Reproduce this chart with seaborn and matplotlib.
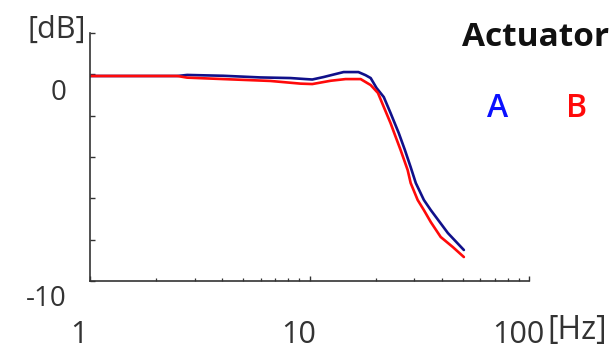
import numpy as np
import pandas as pd
import matplotlib
matplotlib.use("Agg")
import matplotlib.pyplot as plt
import matplotlib.ticker as mticker
from matplotlib.transforms import ScaledTranslation
import seaborn as sns

# ---- data ----
freq_a = [1.0, 2.5, 2.77, 4.05, 5.97, 8.19, 9.6, 10.3, 11.6, 13.1, 14.3, 16.7, 18.0, 19.0, 20.2, 21.8,
          23.4, 25.5, 27.2, 28.9, 30.5, 33.2, 35.7, 42.7, 50.5]
db_a   = [-0.08, -0.08, -0.03, -0.07, -0.15, -0.18, -0.23, -0.25, -0.13, 0.01, 0.11, 0.11, -0.04, -0.18,
          -0.66, -1.10, -1.87, -2.84, -3.66, -4.49, -5.26, -6.08, -6.57, -7.68, -8.50]
freq_b = [1.0, 2.5, 2.77, 4.05, 6.63, 9.1, 10.3, 12.5, 14.6, 17.1, 19.0, 20.5, 21.8, 23.4, 24.7,
          26.0, 28.0, 28.9, 31.1, 33.2, 35.7, 39.6, 45.0, 50.5]
db_b   = [-0.08, -0.08, -0.16, -0.23, -0.32, -0.45, -0.47, -0.31, -0.23, -0.23, -0.52, -0.90, -1.58,
          -2.36, -3.03, -3.66, -4.63, -5.26, -6.08, -6.57, -7.15, -7.87, -8.36, -8.84]
series_names = ["A", "B"]
line_colors = {"A": "#10108a", "B": "#ff0a0a"}
label_colors = {"A": "#0a10ff", "B": "#ff0a0a"}
y_ticks = [-10, -8, -6, -4, -2, 0, 2]
y_ticklabels = ["-10", "", "", "", "", "0", ""]
x_ticks = [1, 10, 100]
x_ticklabels = ["1", "10", "100"]

df = pd.concat([
    pd.DataFrame({"freq": freq_a, "dB": db_a, "Actuator": "A"}),
    pd.DataFrame({"freq": freq_b, "dB": db_b, "Actuator": "B"}),
], ignore_index=True)

sns.set_style("ticks")
plt.rcParams["font.family"] = ["Open Sans", "DejaVu Sans"]

fig = plt.figure(figsize=(6.14, 3.54), dpi=100)
ax = fig.add_axes([90/614, 1-281/354, (529-90)/614, (281-33)/354])

sns.lineplot(data=df, x="freq", y="dB", hue="Actuator", palette=line_colors,
             hue_order=series_names, linewidth=1.9, ax=ax, legend=False, sort=False)

ax.set_xscale("log")
ax.set_xlim(1, 100)
ax.set_ylim(-10, 2)
ax.set_xticks(x_ticks)
ax.set_xticklabels(x_ticklabels)
ax.xaxis.set_minor_locator(mticker.LogLocator(base=10, subs=np.arange(2, 10)))
ax.xaxis.set_minor_formatter(mticker.NullFormatter())
ax.set_yticks(y_ticks)
ax.set_yticklabels(y_ticklabels)
ax.set_xlabel("")
ax.set_ylabel("")

for s in ["top", "right"]:
    ax.spines[s].set_visible(False)
for s in ["left", "bottom"]:
    ax.spines[s].set_color("#333333")
    ax.spines[s].set_linewidth(1.2)

ax.tick_params(axis="y", direction="in", length=3.5, width=1, color="#333333",
               labelsize=20, labelcolor="#333333", pad=17)
ax.tick_params(axis="x", which="major", direction="in", length=3.5, width=1, color="#333333",
               labelsize=22, labelcolor="#333333", pad=28)
ax.tick_params(axis="x", which="minor", direction="in", length=2.2, width=0.9, color="#333333")

for lab in ax.get_yticklabels():
    lab.set_transform(lab.get_transform() + ScaledTranslation(0, -15/100, fig.dpi_scale_trans))
for lab in ax.get_xticklabels():
    lab.set_transform(lab.get_transform() + ScaledTranslation(-11/100, 0, fig.dpi_scale_trans))

fig.text(86/614, 1-30/354, "[dB]", ha="right", va="center", fontsize=22, color="#333333")
fig.text(547/614, 1-331/354, "[Hz]", ha="left", va="center", fontsize=23, color="#333333")
fig.text(609/614, 1-37/354, "Actuator", ha="right", va="center", fontsize=24,
         fontweight="bold", color="#111111")
fig.text(498/614, 1-108/354, series_names[0], ha="center", va="center", fontsize=23,
         fontweight=600, color=label_colors["A"])
fig.text(577/614, 1-108/354, series_names[1], ha="center", va="center", fontsize=23,
         fontweight=600, color=label_colors["B"])

fig.savefig("out.png", dpi=100, facecolor="white")
